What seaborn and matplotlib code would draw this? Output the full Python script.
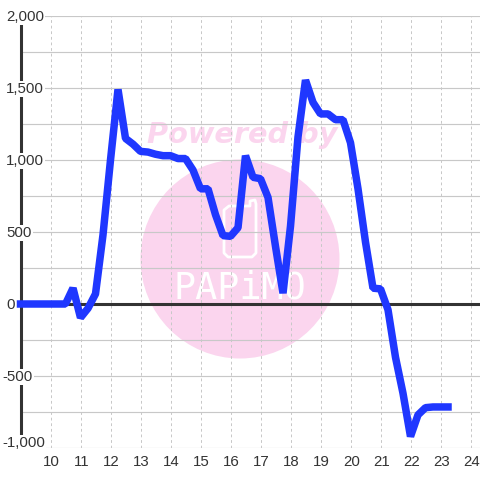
import seaborn as sns
import pandas as pd
import matplotlib.pyplot as plt
from matplotlib.patches import Circle, Polygon
from matplotlib.ticker import MultipleLocator

hours = [
    9, 9.25, 9.5, 9.75, 10, 10.25, 10.5, 10.75, 11, 11.25, 11.5, 11.75,
    12, 12.25, 12.5, 12.75, 13, 13.25, 13.5, 13.75, 14, 14.25, 14.5, 14.75,
    15, 15.25, 15.5, 15.75, 16, 16.25, 16.5, 16.75, 17, 17.25, 17.5, 17.75,
    18, 18.25, 18.5, 18.75, 19, 19.25, 19.5, 19.75, 20, 20.25, 20.5, 20.75,
    21, 21.25, 21.5, 21.75, 22, 22.25, 22.5, 22.75, 23, 23.25,
]
values = [
    0, 0, 0, 0, 0, 0, 0, 110, -95, -30, 70, 480,
    1000, 1490, 1150, 1110, 1060, 1055, 1040, 1030, 1030, 1010, 1010, 930,
    800, 800, 620, 475, 470, 530, 1030, 880, 870, 740, 400, 75,
    540, 1160, 1555, 1400, 1320, 1320, 1280, 1280, 1120, 800, 430, 110,
    105, -40, -370, -620, -920, -770, -720, -715, -715, -715,
]
y_ticks = [2000, 1500, 1000, 500, 0, -500, -1000]
y_labels = ["2,000", "1,500", "1,000", "500", "0", "-500", "-1,000"]
x_ticks = list(range(10, 25))

BLUE = "#1f37ff"
PINK = "#fbd5ee"
DARK = "#333333"
GRID = "#c8c8c8"
W = 480


def fig_xy(x, y):
    return x / W, 1 - y / W


sns.set_theme(style="white")
plt.rcParams["font.family"] = ["Liberation Sans", "DejaVu Sans"]

fig = plt.figure(figsize=(4.8, 4.8), dpi=100, facecolor="white")
ax = fig.add_axes([20.5 / W, 1 - 448 / W, 459.5 / W, 432 / W])
ax.set_xlim(9, 9 + 459.5 / 30)
ax.set_ylim(-1000, 2000)
ax.patch.set_alpha(0)
ax.set_zorder(2)

# watermark sits under the grid
fig.add_artist(Circle(fig_xy(240, 259), 99.5 / W, transform=fig.transFigure, color=PINK, lw=0, zorder=0))
fig.text(*fig_xy(242, 135), "Powered by", color=PINK, fontsize=20.7, fontweight="bold", style="italic",
         family=["DejaVu Sans"], ha="center", va="center", zorder=0)
fig.text(*fig_xy(240, 288), "PAPiMO", color="white", fontsize=26.5, family=["DejaVu Sans Mono"],
         ha="center", va="center", zorder=1)
phone = [(229, 206), (250, 206), (250, 201), (255, 200), (256, 204), (256, 253), (252, 257),
         (228, 257), (224, 253), (224, 210)]
fig.add_artist(Polygon([fig_xy(*p) for p in phone], closed=True, transform=fig.transFigure,
                       fc="none", ec="white", lw=2, joinstyle="round", zorder=1))

ax.yaxis.set_major_locator(MultipleLocator(250))
ax.set_xticks(x_ticks)
ax.grid(axis="y", color=GRID, lw=0.85, zorder=1)
ax.grid(axis="x", color=GRID, lw=0.72, ls=(0, (2.8, 2.8)), zorder=1)
ax.tick_params(left=False, bottom=False, labelleft=False, labelbottom=False)
for s in ax.spines.values():
    s.set_visible(False)

ax.axhline(0, color=DARK, lw=2.2, zorder=2)
ax.plot([9, 9], [-917, 1948], color=DARK, lw=2.2, solid_capstyle="butt", zorder=2, clip_on=False)

df = pd.DataFrame({"hour": hours, "value": values})
sns.lineplot(data=df, x="hour", y="value", color=BLUE, linewidth=5.4, ax=ax, zorder=3, errorbar=None, estimator=None,
             solid_capstyle="projecting", solid_joinstyle="bevel", clip_on=False)
ax.set_xlabel("")
ax.set_ylabel("")

for v, lab in zip(y_ticks, y_labels):
    x_px = 2 if v < 0 else 6
    y_off = 5 if v == -1000 else -1
    ax.annotate(lab, (9, v), xycoords="data", xytext=(x_px - 20.5, y_off), textcoords="offset pixels",
                color=DARK, fontsize=10.8, ha="left", va="center", zorder=4, annotation_clip=False,
                bbox=dict(fc="white", ec="none", pad=1))
for h in x_ticks:
    ax.annotate(str(h), (h, -1000), xycoords="data", xytext=(1, -14), textcoords="offset pixels",
                color=DARK, fontsize=10.8, ha="center", va="center", annotation_clip=False)

fig.savefig("out.png", dpi=100)
